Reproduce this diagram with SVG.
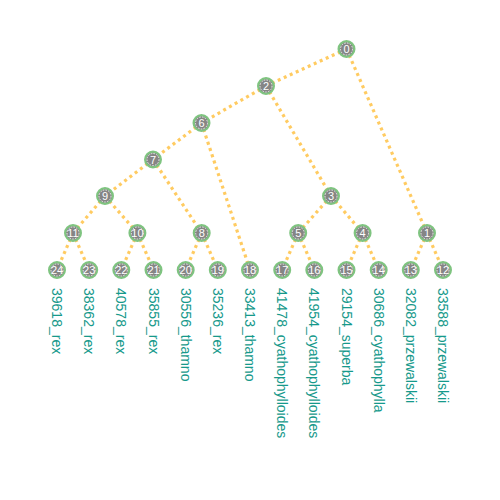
<svg xmlns="http://www.w3.org/2000/svg" width="500" height="500" viewBox="0 0 500 500">
<style>
.e{stroke:#ffc550;stroke-width:3.2;stroke-dasharray:3 3.6;fill:none;opacity:0.9}
.ring{fill:#858585;stroke:#7fc480;stroke-width:2.2}
.inner{fill:none;stroke:#ffffff;stroke-width:0.8;stroke-dasharray:1.6 1.2}
.n{font-family:"Liberation Sans",Arial,sans-serif;font-size:11px;fill:#ffffff;text-anchor:middle;dominant-baseline:central}
.lbl{font-family:"Liberation Sans",Arial,sans-serif;font-size:14px;fill:#16998b;dominant-baseline:central}
</style>
<rect width="500" height="500" fill="#ffffff"/>
<g id="connectors">
<line class="e" x1="346.5" y1="49" x2="266" y2="86"/>
<line class="e" x1="346.5" y1="49" x2="427" y2="233"/>
<line class="e" x1="266" y1="86" x2="201.5" y2="123"/>
<line class="e" x1="266" y1="86" x2="331" y2="196"/>
<line class="e" x1="201.5" y1="123" x2="153" y2="159.5"/>
<line class="e" x1="201.5" y1="123" x2="250" y2="270"/>
<line class="e" x1="153" y1="159.5" x2="105" y2="196"/>
<line class="e" x1="153" y1="159.5" x2="201.7" y2="233"/>
<line class="e" x1="105" y1="196" x2="73" y2="233"/>
<line class="e" x1="105" y1="196" x2="137.4" y2="233"/>
<line class="e" x1="73" y1="233" x2="57" y2="270"/>
<line class="e" x1="73" y1="233" x2="89.2" y2="270"/>
<line class="e" x1="137.4" y1="233" x2="121.3" y2="270"/>
<line class="e" x1="137.4" y1="233" x2="153.5" y2="270"/>
<line class="e" x1="201.7" y1="233" x2="185.7" y2="270"/>
<line class="e" x1="201.7" y1="233" x2="217.8" y2="270"/>
<line class="e" x1="331" y1="196" x2="298.2" y2="233"/>
<line class="e" x1="331" y1="196" x2="362.6" y2="233"/>
<line class="e" x1="298.2" y1="233" x2="282.2" y2="270"/>
<line class="e" x1="298.2" y1="233" x2="314.3" y2="270"/>
<line class="e" x1="362.6" y1="233" x2="346.5" y2="270"/>
<line class="e" x1="362.6" y1="233" x2="378.7" y2="270"/>
<line class="e" x1="427" y1="233" x2="410.8" y2="270"/>
<line class="e" x1="427" y1="233" x2="443" y2="270"/>
</g>
<defs>
<g id="nd"><circle class="ring" r="7.9"/><circle class="inner" r="6"/></g>
</defs>
<g id="node0" transform="translate(346.5,49)"><use href="#nd"/><text class="n">0</text></g>
<g id="node2" transform="translate(266,86)"><use href="#nd"/><text class="n">2</text></g>
<g id="node6" transform="translate(201.5,123)"><use href="#nd"/><text class="n">6</text></g>
<g id="node7" transform="translate(153,159.5)"><use href="#nd"/><text class="n">7</text></g>
<g id="node9" transform="translate(105,196)"><use href="#nd"/><text class="n">9</text></g>
<g id="node3" transform="translate(331,196)"><use href="#nd"/><text class="n">3</text></g>
<g id="node11" transform="translate(73,233)"><use href="#nd"/><text class="n">11</text></g>
<g id="node10" transform="translate(137.4,233)"><use href="#nd"/><text class="n">10</text></g>
<g id="node8" transform="translate(201.7,233)"><use href="#nd"/><text class="n">8</text></g>
<g id="node5" transform="translate(298.2,233)"><use href="#nd"/><text class="n">5</text></g>
<g id="node4" transform="translate(362.6,233)"><use href="#nd"/><text class="n">4</text></g>
<g id="node1" transform="translate(427,233)"><use href="#nd"/><text class="n">1</text></g>
<g id="node24" transform="translate(57,270)"><use href="#nd"/><text class="n">24</text><text class="lbl" transform="translate(0,18) rotate(90)">39618_rex</text></g>
<g id="node23" transform="translate(89.2,270)"><use href="#nd"/><text class="n">23</text><text class="lbl" transform="translate(0,18) rotate(90)">38362_rex</text></g>
<g id="node22" transform="translate(121.3,270)"><use href="#nd"/><text class="n">22</text><text class="lbl" transform="translate(0,18) rotate(90)">40578_rex</text></g>
<g id="node21" transform="translate(153.5,270)"><use href="#nd"/><text class="n">21</text><text class="lbl" transform="translate(0,18) rotate(90)">35855_rex</text></g>
<g id="node20" transform="translate(185.7,270)"><use href="#nd"/><text class="n">20</text><text class="lbl" transform="translate(0,18) rotate(90)">30556_thamno</text></g>
<g id="node19" transform="translate(217.8,270)"><use href="#nd"/><text class="n">19</text><text class="lbl" transform="translate(0,18) rotate(90)">35236_rex</text></g>
<g id="node18" transform="translate(250,270)"><use href="#nd"/><text class="n">18</text><text class="lbl" transform="translate(0,18) rotate(90)">33413_thamno</text></g>
<g id="node17" transform="translate(282.2,270)"><use href="#nd"/><text class="n">17</text><text class="lbl" transform="translate(0,18) rotate(90)">41478_cyathophylloides</text></g>
<g id="node16" transform="translate(314.3,270)"><use href="#nd"/><text class="n">16</text><text class="lbl" transform="translate(0,18) rotate(90)">41954_cyathophylloides</text></g>
<g id="node15" transform="translate(346.5,270)"><use href="#nd"/><text class="n">15</text><text class="lbl" transform="translate(0,18) rotate(90)">29154_superba</text></g>
<g id="node14" transform="translate(378.7,270)"><use href="#nd"/><text class="n">14</text><text class="lbl" transform="translate(0,18) rotate(90)">30686_cyathophylla</text></g>
<g id="node13" transform="translate(410.8,270)"><use href="#nd"/><text class="n">13</text><text class="lbl" transform="translate(0,18) rotate(90)">32082_przewalskii</text></g>
<g id="node12" transform="translate(443,270)"><use href="#nd"/><text class="n">12</text><text class="lbl" transform="translate(0,18) rotate(90)">33588_przewalskii</text></g>
</svg>
